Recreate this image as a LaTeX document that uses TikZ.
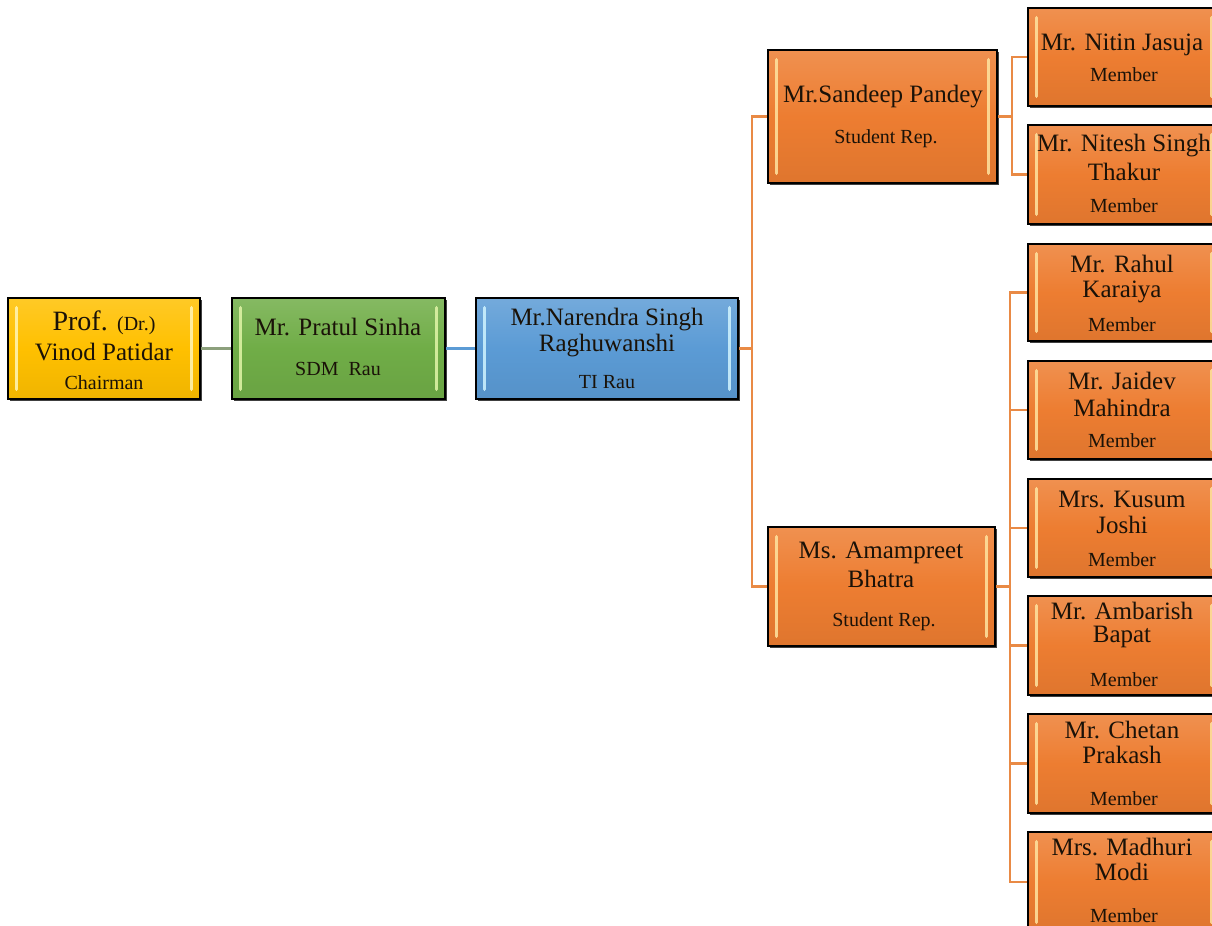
\documentclass[tikz,border=0pt]{standalone}
\usepackage{fontspec}
\setmainfont{Liberation Serif}
\usetikzlibrary{fit}
\definecolor{cYellow}{HTML}{FFC000}
\definecolor{cGreen}{HTML}{70AD47}
\definecolor{cBlue}{HTML}{5B9BD5}
\definecolor{cOrange}{HTML}{ED7D31}
\definecolor{sYellow}{HTML}{FFF6B8}
\definecolor{sGreen}{HTML}{E2F5A8}
\definecolor{sBlue}{HTML}{D0F4FF}
\definecolor{sOrange}{HTML}{FFE4A0}
\definecolor{lGreen}{HTML}{8CA07C}
\definecolor{lOrange}{HTML}{E98A45}
\definecolor{txt}{HTML}{1A1208}
\tikzset{
  orgbase/.style={inner sep=0pt, draw=black, line width=1.5pt},
  bevel/.style={draw=#1, line width=2.6pt, line cap=round, opacity=0.85},
  conn/.style={draw=lOrange, line width=1.6pt},
  nm/.style={font=\fontsize{18.75}{20}\selectfont, text=txt, inner sep=0pt},
  sub/.style={font=\fontsize{15}{16}\selectfont, text=txt, inner sep=0pt},
}
\newcommand\orgbox[7]{%
  \fill[black!75] (#2+2,#3+2) rectangle (#4+2,#5+2);
  \node[orgbase, fit={(#2,#3) (#4,#5)}, top color=#6!85!white, bottom color=#6!94!black, middle color=#6] (#1) {};
  \draw[bevel=#7] ([xshift=7pt,yshift=-8pt]#1.north west) -- ([xshift=7pt,yshift=8pt]#1.south west);
  \draw[bevel=#7] ([xshift=-7pt,yshift=-8pt]#1.north east) -- ([xshift=-7pt,yshift=8pt]#1.south east);
}
\begin{document}
\begin{tikzpicture}[x=0.75pt,y=-0.75pt]
\useasboundingbox (0,0) rectangle (1212,925);
\fill[white] (0,0) rectangle (1212,925);
\clip (0,0) rectangle (1212,925);

% boxes
\orgbox{prof}{8}{298}{200}{399}{cYellow}{sYellow}
\orgbox{prat}{232}{298}{445}{399}{cGreen}{sGreen}
\orgbox{nar}{476}{298}{738}{399}{cBlue}{sBlue}
\orgbox{san}{768}{50}{997}{183}{cOrange}{sOrange}
\orgbox{ama}{768}{527}{995}{646}{cOrange}{sOrange}
\orgbox{nit}{1028}{8}{1220}{106}{cOrange}{sOrange}
\orgbox{nts}{1028}{125}{1220}{224}{cOrange}{sOrange}
\orgbox{rah}{1028}{244}{1220}{341}{cOrange}{sOrange}
\orgbox{jai}{1028}{361}{1220}{459}{cOrange}{sOrange}
\orgbox{kus}{1028}{479}{1220}{577}{cOrange}{sOrange}
\orgbox{amb}{1028}{596}{1220}{695}{cOrange}{sOrange}
\orgbox{che}{1028}{714}{1220}{813}{cOrange}{sOrange}
\orgbox{mad}{1028}{832}{1220}{932}{cOrange}{sOrange}

% connectors
\draw[draw=lGreen, line width=1.6pt] (prof.east) -- (prat.west);
\draw[draw=cBlue, line width=1.6pt] (prat.east) -- (nar.west);
\coordinate (j1) at (752,348.5);
\draw[conn] (nar.east) -- (j1);
\draw[conn] (j1) |- (san.west);
\draw[conn] (j1) |- (ama.west);
\coordinate (j2) at (1012,116.5);
\draw[conn] (san.east) -- (j2);
\draw[conn] (j2) |- (nit.west);
\draw[conn] (j2) |- (nts.west);
\coordinate (j3) at (1010,586.5);
\draw[conn] (ama.east) -- (j3);
\foreach \m in {rah,jai,kus,amb,che,mad} {\draw[conn] (j3) |- (\m.west);}

% texts
\node[nm] (t1) at (104,323) {\fontsize{21}{22}\selectfont Prof. \fontsize{15}{16}\selectfont(Dr.)};
\node[nm] (t2) at (104,352) {Vinod Patidar};
\node[sub] (t3) at (104,383) {Chairman};
\node[nm] (t4) at (338,327) {Mr. Pratul Sinha};
\node[sub] (t5) at (338,369) {SDM\ \ Rau};
\node[nm] (t6) at (607,320) {Mr.Narendra Singh};
\node[nm] (t7) at (607,346) {Raghuwanshi};
\node[sub] (t8) at (607,382) {TI Rau};
\node[nm] (t9) at (883,97) {Mr.Sandeep Pandey};
\node[sub] (t10) at (886,139) {Student Rep.};
\node[nm] (t11) at (881,553) {Ms. Amampreet};
\node[nm] (t12) at (881,579) {Bhatra};
\node[sub] (t13) at (884,622) {Student Rep.};
\node[nm] (t14) at (1122,45) {Mr. Nitin Jasuja};
\node[sub] (t15) at (1124,75) {Member};
\node[nm] (t16) at (1124,146) {Mr. Nitesh Singh};
\node[nm] (t17) at (1124,172) {Thakur};
\node[sub] (t18) at (1124,206) {Member};
\node[nm] (t19) at (1122,264) {Mr. Rahul};
\node[nm] (t20) at (1122,292) {Karaiya};
\node[sub] (t21) at (1122,325) {Member};
\node[nm] (t22) at (1122,381) {Mr. Jaidev};
\node[nm] (t23) at (1122,408) {Mahindra};
\node[sub] (t24) at (1122,441) {Member};
\node[nm] (t25) at (1122,499) {Mrs. Kusum};
\node[nm] (t26) at (1122,525) {Joshi};
\node[sub] (t27) at (1122,560) {Member};
\node[nm] (t28) at (1122,611) {Mr. Ambarish};
\node[nm] (t29) at (1122,637) {Bapat};
\node[sub] (t30) at (1124,680) {Member};
\node[nm] (t31) at (1122,730) {Mr. Chetan};
\node[nm] (t32) at (1122,755) {Prakash};
\node[sub] (t33) at (1124,799) {Member};
\node[nm] (t34) at (1122,847) {Mrs. Madhuri};
\node[nm] (t35) at (1122,872) {Modi};
\node[sub] (t36) at (1124,916) {Member};
\end{tikzpicture}
\end{document}
